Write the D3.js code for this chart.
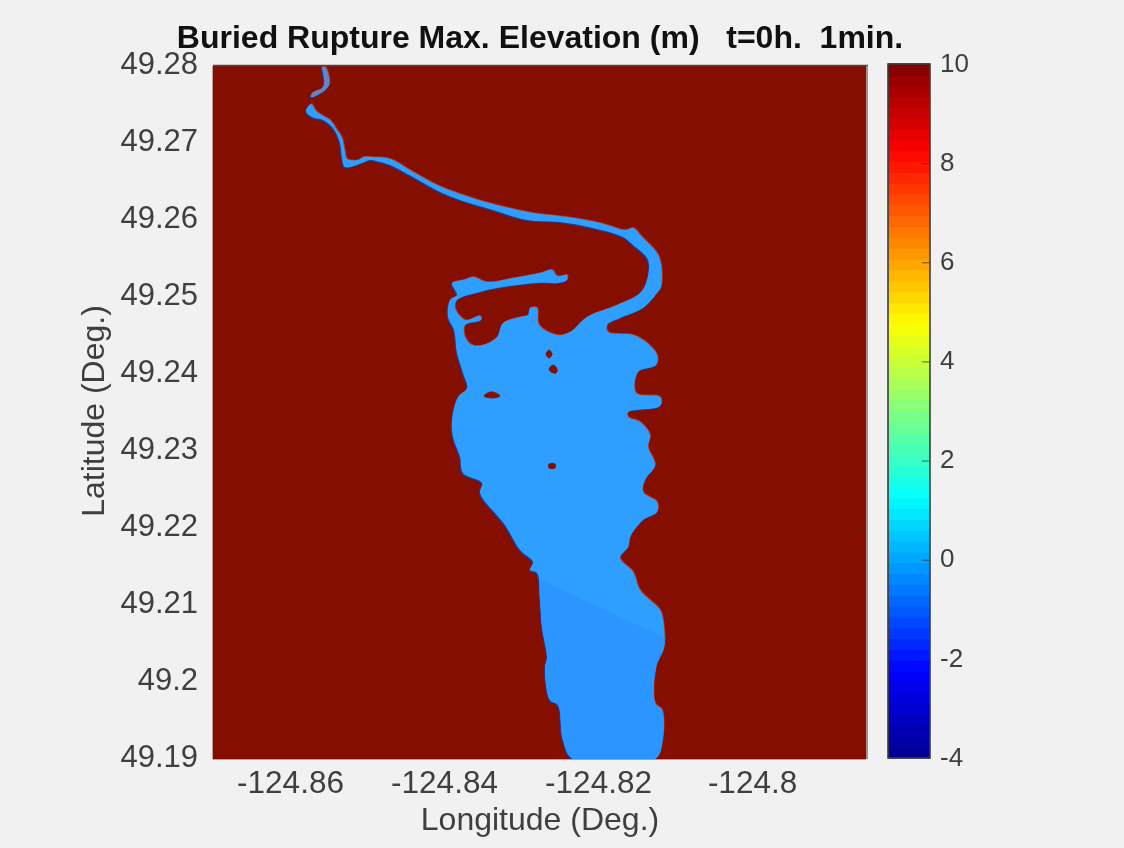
<!DOCTYPE html>
<html><head><meta charset="utf-8">
<script src="https://cdnjs.cloudflare.com/ajax/libs/d3/7.8.5/d3.min.js"></script>
<style>
html,body{margin:0;padding:0;background:#f1f1f1;}
svg{display:block;filter:blur(0.55px);}
text{font-family:"Liberation Sans",Arial,sans-serif;}
</style></head><body><div id="chart"></div>
<script>
const titleText = "Buried Rupture Max. Elevation (m)   t=0h.  1min.";
const xLabel = "Longitude (Deg.)";
const yLabel = "Latitude (Deg.)";
const lonTicks = [-124.86,-124.84,-124.82,-124.80];
const latTicks = [49.19,49.20,49.21,49.22,49.23,49.24,49.25,49.26,49.27,49.28];
const cbTicks = [-4,-2,0,2,4,6,8,10];
const lonDomain = [-124.87,-124.7852];
const latDomain = [49.19,49.28];
const cbDomain = [-4,10];
const jetStops = ["#00008f","#0000ff","#00ffff","#ffff00","#ff0000","#800000"];
const jetPos = [0,0.125,0.375,0.625,0.875,1];

// upstream stub of the river
const riverStub = [[-124.85584,49.27987],[-124.85545,49.27987],[-124.85494,49.27857],[-124.85494,49.27753],[-124.85558,49.27675],[-124.85701,49.27597],[-124.85727,49.27597],[-124.85714,49.27649],[-124.85584,49.27714],[-124.85558,49.27779],[-124.85571,49.27909]];

// inlet, lake and river outline
const waterOutline = [
[-124.85792,49.27416],[-124.85727,49.27506],[-124.85662,49.27416],[-124.85571,49.27351],[-124.85481,49.27299],[-124.8539,49.27169],[-124.85325,49.27065],[-124.85286,49.26883],[-124.8526,49.26792],[-124.85117,49.26779],[-124.85052,49.26818],[-124.84948,49.26818],[-124.84701,49.26792],[-124.84403,49.26623],[-124.84091,49.26455],[-124.83792,49.26338],[-124.83364,49.26208],[-124.82844,49.26091],[-124.82403,49.26039],[-124.81974,49.25961],[-124.81649,49.2587],[-124.81545,49.25896],[-124.81429,49.25779],[-124.81208,49.25519],[-124.81182,49.2513],[-124.81234,49.25052],[-124.81416,49.24857],[-124.81714,49.24727],[-124.81883,49.24636],[-124.8187,49.24545],[-124.81545,49.24506],[-124.81364,49.24403],[-124.81234,49.24247],[-124.81247,49.24117],[-124.81481,49.24026],[-124.81506,49.23753],[-124.81195,49.23701],[-124.81195,49.23584],[-124.8161,49.23506],[-124.8161,49.23442],[-124.81455,49.23377],[-124.81325,49.23208],[-124.81351,49.23052],[-124.8126,49.22818],[-124.8139,49.22623],[-124.81416,49.22468],[-124.81234,49.22338],[-124.81234,49.22208],[-124.81416,49.22104],[-124.81584,49.21883],[-124.8161,49.21753],[-124.81714,49.2161],[-124.81545,49.21429],[-124.81455,49.21195],[-124.81195,49.20935],[-124.81156,49.20805],[-124.81143,49.20455],[-124.81247,49.20195],[-124.8126,49.19727],[-124.81169,49.19636],[-124.81169,49.19208],[-124.8126,49.19],
[-124.82325,49.19],[-124.82455,49.19247],[-124.8252,49.19701],[-124.82623,49.19766],[-124.82688,49.20195],[-124.82662,49.20312],[-124.82727,49.20714],[-124.82753,49.21065],[-124.82792,49.21416],[-124.82883,49.21455],[-124.82844,49.21558],[-124.83013,49.21714],[-124.83208,49.22039],[-124.83532,49.22455],[-124.83506,49.22584],[-124.83753,49.22714],[-124.83792,49.22922],[-124.83883,49.23182],[-124.83896,49.23403],[-124.83818,49.23701],[-124.83701,49.23818],[-124.83753,49.24013],[-124.83831,49.24273],[-124.8387,49.24571],[-124.83948,49.2474],[-124.83922,49.24961],[-124.83831,49.25026],[-124.83857,49.25091],[-124.83896,49.25182],[-124.83753,49.25221],[-124.83623,49.2526],[-124.83442,49.25195],[-124.83104,49.25247],[-124.82753,49.25312],[-124.82597,49.25351],[-124.82532,49.25273],[-124.82403,49.25286],[-124.82403,49.25221],[-124.8252,49.25182],[-124.82792,49.25182],[-124.83312,49.25117],[-124.83532,49.25065],[-124.83831,49.24961],[-124.83857,49.24857],[-124.83727,49.24701],[-124.83532,49.24753],[-124.83519,49.24701],[-124.83727,49.24636],[-124.83727,49.24481],[-124.83636,49.24377],[-124.83494,49.24377],[-124.83312,49.24481],[-124.83234,49.24662],[-124.83013,49.2474],[-124.82909,49.24766],[-124.82883,49.24857],[-124.82792,49.24857],[-124.82766,49.24636],[-124.82532,49.24506],[-124.82364,49.24545],[-124.82143,49.2474],[-124.81753,49.24896],[-124.81455,49.25052],[-124.81364,49.25221],[-124.81351,49.25481],[-124.81545,49.25675],[-124.81675,49.25779],[-124.82065,49.25896],[-124.82494,49.25974],[-124.82922,49.26],[-124.83364,49.2613],[-124.83792,49.2626],[-124.84052,49.26364],[-124.84403,49.26558],[-124.84701,49.26714],[-124.84831,49.26753],[-124.84961,49.26779],[-124.85065,49.2674],[-124.85286,49.26688],[-124.85325,49.26805],[-124.85351,49.27],[-124.85442,49.27195],[-124.85571,49.27299],[-124.85714,49.27338]];

// dry islands inside the lake
const islands = [
[[-124.82636,49.24312],[-124.82597,49.2426],[-124.82636,49.24208],[-124.82675,49.2426]],
[[-124.82636,49.24065],[-124.82584,49.24117],[-124.82532,49.24065],[-124.82545,49.24013],[-124.8261,49.24026]],
[[-124.8348,49.23714],[-124.83403,49.23766],[-124.83325,49.23753],[-124.83273,49.23714],[-124.83377,49.23688]],
[[-124.82636,49.22831],[-124.82558,49.22831],[-124.82558,49.22779],[-124.82636,49.22779]]];

// slightly lower water south of the rupture line
const lowerZone = [[-124.82883,49.2139],[-124.81065,49.20545],[-124.81065,49.19],[-124.82883,49.19]];

const W=1124,H=848;
const plot={l:213,r:866,t:66,b:759};
const cb={l:888,r:930,t:64,b:758};
const ink="#3f3f3f";

const svg=d3.select("#chart").append("svg").attr("width",W).attr("height",H).attr("viewBox",`0 0 ${W} ${H}`);
svg.append("rect").attr("width",W).attr("height",H).attr("fill","#f1f1f1");

const x=d3.scaleLinear().domain(lonDomain).range([plot.l,plot.r]);
const y=d3.scaleLinear().domain(latDomain).range([plot.b,plot.t]);
const c=d3.scaleLinear().domain(cbDomain).range([cb.b,cb.t]);
const jet=d3.scaleLinear().domain(jetPos).range(jetStops).interpolate(d3.interpolateRgb).clamp(true);

const poly=d3.line().x(d=>x(d[0])).y(d=>y(d[1])).curve(d3.curveLinearClosed);
const shore=d3.line().x(d=>x(d[0])).y(d=>y(d[1])).curve(d3.curveCatmullRomClosed.alpha(0.5));

const defs=svg.append("defs");
defs.append("clipPath").attr("id","plotClip").append("rect")
  .attr("x",plot.l).attr("y",plot.t).attr("width",plot.r-plot.l).attr("height",plot.b-plot.t);
defs.append("clipPath").attr("id","waterClip").append("path").attr("d",shore(waterOutline));

const map=svg.append("g").attr("clip-path","url(#plotClip)");
map.append("rect").attr("x",plot.l).attr("y",plot.t).attr("width",plot.r-plot.l).attr("height",plot.b+3-plot.t).attr("fill","#840e00");

// dark fringe on the south-west edge and salmon on the north-east edge of the shoreline
const polys=[waterOutline,riverStub];
map.append("g").attr("transform","translate(-1,1)").selectAll("path").data(polys).join("path").attr("d",shore).attr("fill","#1c3f96");
map.append("g").attr("transform","translate(0.8,-0.8)").selectAll("path").data(polys).join("path").attr("d",shore).attr("fill","#d9604a").attr("opacity",0.55);
map.selectAll("path.water").data([waterOutline]).join("path").attr("class","water").attr("d",shore).attr("fill","#2e9fff");
map.selectAll("path.stub").data([riverStub]).join("path").attr("class","stub").attr("d",shore).attr("fill","#5f86c8");
map.append("path").attr("d",poly(lowerZone)).attr("fill","#2b96ff").attr("clip-path","url(#waterClip)");
map.selectAll("path.isle").data(islands).join("path").attr("class","isle").attr("d",shore).attr("fill","#840e00").attr("stroke","#840e00").attr("stroke-width",0.8);

// frame of the map
svg.append("line").attr("x1",plot.l).attr("x2",plot.r+2).attr("y1",plot.t-0.5).attr("y2",plot.t-0.5).attr("stroke","#4a4a4a").attr("stroke-width",1.6);
svg.append("line").attr("x1",plot.r+1).attr("x2",plot.r+1).attr("y1",plot.t).attr("y2",plot.b).attr("stroke","#a08f8c").attr("stroke-width",2);
svg.append("line").attr("x1",plot.l).attr("x2",plot.r).attr("y1",plot.b+0.5).attr("y2",plot.b+0.5).attr("stroke","#c99a8e").attr("stroke-width",1);
svg.append("line").attr("x1",plot.l-0.5).attr("x2",plot.l-0.5).attr("y1",plot.t).attr("y2",plot.b).attr("stroke","#c99a8e").attr("stroke-width",1);

// axes
const yAxis=svg.append("g").attr("transform",`translate(${plot.l},0)`)
  .call(d3.axisLeft(y).tickValues(latTicks).tickSize(0).tickPadding(15).tickFormat(d=>+d.toFixed(2)));
yAxis.select(".domain").remove();
yAxis.selectAll("text").attr("font-size",31).attr("fill",ink).attr("dy","0.24em");

const xAxis=svg.append("g").attr("transform",`translate(0,${plot.b})`)
  .call(d3.axisBottom(x).tickValues(lonTicks).tickSize(0).tickPadding(12).tickFormat(d=>+d.toFixed(2)));
xAxis.select(".domain").remove();
xAxis.selectAll("text").attr("font-size",31.5).attr("fill",ink).attr("dy","0.71em");

const rTicks=svg.append("g").attr("transform",`translate(${plot.r},0)`)
  .call(d3.axisLeft(y).tickValues(latTicks.slice(1,-1)).tickSize(6).tickFormat(""));
rTicks.select(".domain").remove();
rTicks.selectAll("line").attr("stroke","#5a3028").attr("stroke-opacity",0.5);

// colour bar
const nColors=64;
const bands=d3.range(nColors);
const cbVal=d3.scaleLinear().domain([0,nColors]).range(cbDomain);
svg.append("g").selectAll("rect").data(bands).join("rect")
  .attr("x",cb.l).attr("width",cb.r-cb.l)
  .attr("y",i=>c(cbVal(i+1))-0.5)
  .attr("height",i=>c(cbVal(i))-c(cbVal(i+1))+1)
  .attr("fill",i=>jet((i+0.5)/nColors));
svg.append("rect").attr("x",cb.l).attr("y",cb.t).attr("width",cb.r-cb.l).attr("height",cb.b-cb.t).attr("fill","none").attr("stroke","#3c3c3c").attr("stroke-width",1.6);

const cAxis=svg.append("g").attr("transform",`translate(${cb.r},0)`)
  .call(d3.axisRight(c).tickValues(cbTicks).tickSize(0).tickPadding(10).tickFormat(d=>String(d)));
cAxis.select(".domain").remove();
cAxis.selectAll("text").attr("font-size",26).attr("fill",ink).attr("dy","0.28em");
const cTicks=svg.append("g").attr("transform",`translate(${cb.r},0)`)
  .call(d3.axisLeft(c).tickValues(cbTicks.slice(1,-1)).tickSize(8).tickFormat(""));
cTicks.select(".domain").remove();
cTicks.selectAll("line").attr("stroke","#333").attr("stroke-opacity",0.75);

// titles
svg.append("text").attr("x",540).attr("y",48).attr("text-anchor","middle").attr("font-size",32).attr("font-weight","bold").attr("fill","#111").style("white-space","pre").text(titleText);
svg.append("text").attr("x",540).attr("y",830).attr("text-anchor","middle").attr("font-size",32).attr("fill",ink).text(xLabel);
svg.append("text").attr("transform","translate(104,411) rotate(-90)").attr("text-anchor","middle").attr("font-size",32).attr("fill",ink).text(yLabel);
</script></body></html>
